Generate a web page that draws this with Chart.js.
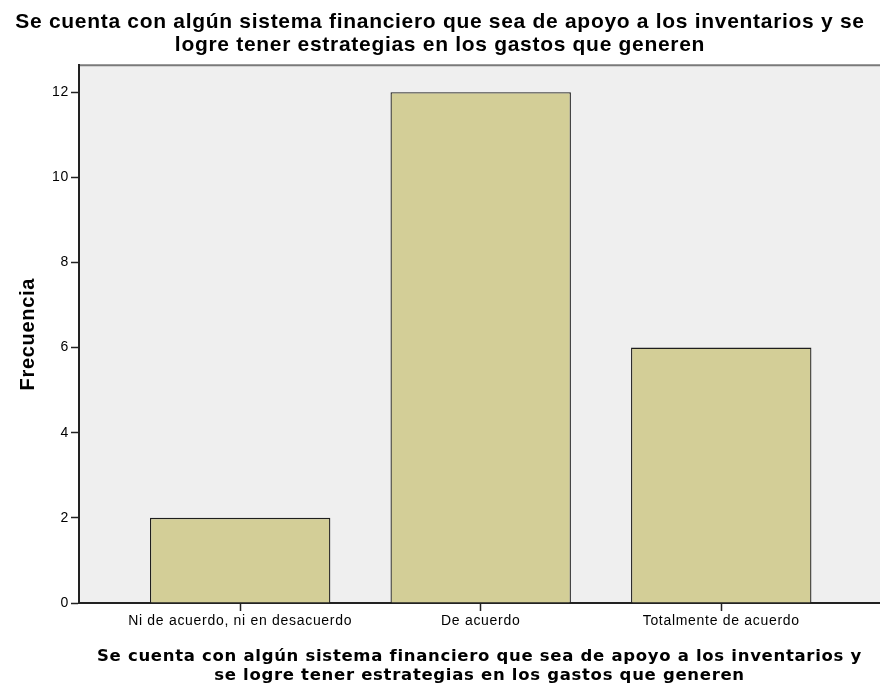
<!DOCTYPE html>
<html>
<head>
<meta charset="utf-8">
<script src="https://cdn.jsdelivr.net/npm/chart.js@4"></script>
<style>
  html, body { margin: 0; padding: 0; background: #fff; }
  #wrap { width: 880px; height: 689px; }
</style>
</head>
<body>
<div id="wrap"><canvas id="chart"></canvas></div>
<script>
const titleLines = [
  'Se cuenta con algún sistema financiero que sea de apoyo a los inventarios y se',
  'logre tener estrategias en los gastos que generen'
];
const xTitleLines = [
  'Se cuenta con algún sistema financiero que sea de apoyo a los inventarios y',
  'se logre tener estrategias en los gastos que generen'
];
const categories = ['Ni de acuerdo, ni en desacuerdo', 'De acuerdo', 'Totalmente de acuerdo'];
const frecuencia = [2, 12, 6];
const yTicks = [0, 2, 4, 6, 8, 10, 12];

// SPSS draws its text a little spread out
const spacing = {
  id: 'spacing',
  beforeUpdate(chart) { chart.ctx.letterSpacing = '0.7px'; },
  beforeDraw(chart) { chart.ctx.letterSpacing = '0.7px'; }
};

// plot background and grey top edge
const frame = {
  id: 'frame',
  beforeDraw(chart) {
    const { ctx, chartArea: a } = chart;
    ctx.save();
    ctx.fillStyle = '#efefef';
    ctx.fillRect(a.left, a.top, a.right - a.left, a.bottom - a.top);
    ctx.strokeStyle = '#7a7a7a';
    ctx.lineWidth = 2;
    ctx.beginPath();
    ctx.moveTo(a.left, a.top);
    ctx.lineTo(a.right, a.top);
    ctx.stroke();
    ctx.restore();
  }
};

const ctx = document.getElementById('chart').getContext('2d');
new Chart(ctx, {
  type: 'bar',
  data: {
    datasets: [{
      label: 'Frecuencia',
      data: frecuencia.map((v, i) => ({ x: i + 1, y: v })),
      backgroundColor: '#d3ce97',
      borderColor: '#1e1e1e',
      borderWidth: 1.3,
      barPercentage: 0.75,
      categoryPercentage: 1
    }]
  },
  options: {
    responsive: true,
    maintainAspectRatio: false,
    animation: false,
    layout: { padding: { left: 0, right: 0, top: 0, bottom: 0 } },
    plugins: {
      legend: { display: false },
      tooltip: { enabled: false },
      title: {
        display: true,
        text: titleLines,
        color: '#000',
        font: { family: 'Liberation Sans', size: 21, weight: 'bold', lineHeight: 1.08 },
        padding: { top: 11, bottom: 9 }
      }
    },
    scales: {
      x: {
        type: 'linear',
        offset: false,
        min: 0.33,
        max: 3.66,
        afterBuildTicks: s => { s.ticks = categories.map((c, i) => ({ value: i + 1 })); },
        afterFit: s => { s.height = 86; },
        ticks: {
          color: '#000',
          font: { family: 'Liberation Sans', size: 14 },
          padding: 2,
          maxRotation: 0,
          autoSkip: false,
          callback: v => categories[v - 1]
        },
        grid: { offset: false, drawOnChartArea: false, tickLength: 8, color: '#222', tickWidth: 1.5 },
        border: { color: '#222', width: 2 },
        title: {
          display: true,
          text: xTitleLines,
          color: '#000',
          font: { family: 'DejaVu Sans', size: 16.5, weight: 'bold', lineHeight: 1.15 },
          padding: { top: 8, bottom: 4 }
        }
      },
      y: {
        min: 0,
        max: 12.63,
        afterBuildTicks: s => { s.ticks = yTicks.map(v => ({ value: v })); },
        afterFit: s => { s.width = 79; },
        ticks: {
          color: '#000',
          font: { family: 'Liberation Sans', size: 14 },
          padding: 2
        },
        grid: { drawOnChartArea: false, tickLength: 8, color: '#222', tickWidth: 1.5 },
        border: { color: '#222', width: 2 },
        title: {
          display: true,
          text: 'Frecuencia',
          color: '#000',
          font: { family: 'Liberation Sans', size: 20, weight: 'bold' },
          padding: { top: 16, bottom: 0 }
        }
      }
    }
  },
  plugins: [spacing, frame]
});
</script>
</body>
</html>
